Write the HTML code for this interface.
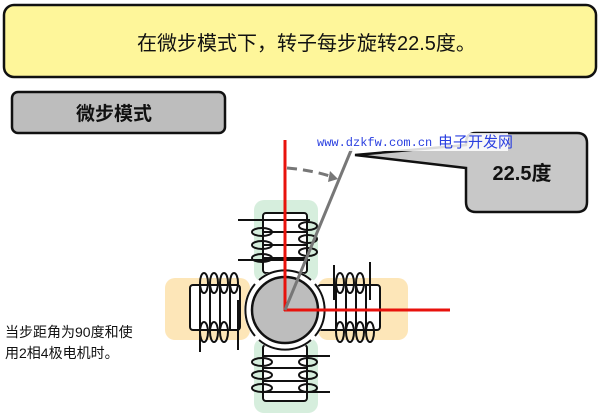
<!DOCTYPE html>
<html><head><meta charset="utf-8"><style>
body{margin:0;width:600px;height:417px;background:#fff;overflow:hidden;font-family:"Liberation Sans","Noto Sans CJK SC",sans-serif}
</style></head><body>
<svg width="600" height="417" viewBox="0 0 600 417" xmlns="http://www.w3.org/2000/svg" style="position:absolute;left:0;top:0">
<rect x="4" y="5" width="592" height="72" rx="10" fill="#fef69a" stroke="#111" stroke-width="2.5"/>
<text x="137" y="50" font-size="20" fill="#111" font-family="Liberation Sans,Noto Sans CJK SC,sans-serif">在微步模式下，转子每步旋转22.5度。</text>
<rect x="12" y="92" width="213" height="41" rx="6" fill="#bdbdbd" stroke="#111" stroke-width="2.5"/>
<text x="76" y="120" font-size="19" font-weight="bold" fill="#111" font-family="Liberation Sans,Noto Sans CJK SC,sans-serif">微步模式</text>
<text x="5" y="337" font-size="14" fill="#111" font-family="Liberation Sans,Noto Sans CJK SC,sans-serif">当步距角为90度和使</text>
<text x="5" y="358" font-size="14" fill="#111" font-family="Liberation Sans,Noto Sans CJK SC,sans-serif">用2相4极电机时。</text>
<rect x="254" y="200" width="64" height="82" rx="10" fill="#d6eedd"/>
<rect x="254" y="338" width="64" height="75" rx="10" fill="#d6eedd"/>
<rect x="165" y="278" width="85" height="62" rx="10" fill="#fde6b8"/>
<rect x="318" y="278" width="90" height="62" rx="10" fill="#fde6b8"/>
<g stroke="#111" stroke-width="2" fill="#fff">
<rect x="263" y="213" width="44" height="60" rx="3"/>
<path d="M238 220H310M238 260H310" fill="none"/>
<path d="M263 232H307M263 245H307M263 258H307" fill="none"/>
<ellipse cx="262" cy="232" rx="10" ry="4" fill="none"/><ellipse cx="262" cy="245" rx="10" ry="4" fill="none"/><ellipse cx="262" cy="258" rx="10" ry="4" fill="none"/>
<ellipse cx="308" cy="226" rx="9" ry="4" fill="none"/><ellipse cx="308" cy="239" rx="9" ry="4" fill="none"/><ellipse cx="308" cy="252" rx="9" ry="4" fill="none"/>
<rect x="263" y="345" width="44" height="56" rx="3"/>
<path d="M263 356H330M263 392H330M263 368H307M263 381H307" fill="none"/>
<ellipse cx="262" cy="362" rx="10" ry="4" fill="none"/><ellipse cx="262" cy="375" rx="10" ry="4" fill="none"/><ellipse cx="262" cy="388" rx="10" ry="4" fill="none"/>
<ellipse cx="308" cy="362" rx="9" ry="4" fill="none"/><ellipse cx="308" cy="375" rx="9" ry="4" fill="none"/><ellipse cx="308" cy="388" rx="9" ry="4" fill="none"/>
<rect x="190" y="285" width="50" height="45" rx="3"/>
<path d="M200 285V330M210 285V330M220 285V330M230 285V330" fill="none"/>
<path d="M200 300V352M238 300V350" fill="none"/>
<ellipse cx="204" cy="283" rx="4" ry="10" fill="none"/><ellipse cx="214" cy="283" rx="4" ry="10" fill="none"/><ellipse cx="224" cy="283" rx="4" ry="10" fill="none"/><ellipse cx="234" cy="283" rx="4" ry="10" fill="none"/>
<ellipse cx="204" cy="332" rx="4" ry="10" fill="none"/><ellipse cx="214" cy="332" rx="4" ry="10" fill="none"/><ellipse cx="224" cy="332" rx="4" ry="10" fill="none"/>
<rect x="318" y="285" width="62" height="45" rx="3"/>
<path d="M336 285V330M346 285V330M356 285V330M366 285V330" fill="none"/>
<path d="M334 265V300M370 262V300" fill="none"/>
<ellipse cx="340" cy="283" rx="4" ry="10" fill="none"/><ellipse cx="350" cy="283" rx="4" ry="10" fill="none"/><ellipse cx="360" cy="283" rx="4" ry="10" fill="none"/>
<ellipse cx="340" cy="332" rx="4" ry="10" fill="none"/><ellipse cx="350" cy="332" rx="4" ry="10" fill="none"/><ellipse cx="360" cy="332" rx="4" ry="10" fill="none"/><ellipse cx="370" cy="332" rx="4" ry="10" fill="none"/>
<circle cx="285" cy="310" r="38" fill="#fff" stroke="#fff" stroke-width="6"/>
<path d="M259 280A40 40 0 0 1 311 280M259 340A40 40 0 0 0 311 340M255 284A40 40 0 0 0 255 336M315 284A40 40 0 0 1 315 336" fill="none"/>
<circle cx="285" cy="310" r="33" fill="#bdbdbd" stroke-width="2.5"/>
</g>
<line x1="285" y1="140" x2="285" y2="311" stroke="#e8120c" stroke-width="3"/>
<line x1="284" y1="310" x2="450" y2="310" stroke="#e8120c" stroke-width="3"/>
<line x1="285" y1="310" x2="352" y2="148" stroke="#777" stroke-width="3"/>
<path d="M287 168Q312 170 333 177" fill="none" stroke="#777" stroke-width="3" stroke-dasharray="10 6"/>
<path d="M330 171L338 179L328 182Z" fill="#777"/>
<path d="M476 133H577Q587 133 587 143V202Q587 212 577 212H476Q466 212 466 202V168L355 155L466 145V143Q466 133 476 133Z" fill="#c8c8c8" stroke="#111" stroke-width="2.5"/>
<text x="522" y="180" font-size="20" font-weight="bold" text-anchor="middle" fill="#111" font-family="Liberation Sans,Noto Sans CJK SC,sans-serif">22.5度</text>
<rect x="314" y="133" width="194" height="18" fill="#fff" opacity="0.85"/>
<text x="317" y="146" font-size="12" fill="#2a3fe0" font-family="Liberation Mono,monospace">www.dzkfw.com.cn</text>
<text x="438" y="147" font-size="15" fill="#2a3fe0" font-family="Liberation Sans,Noto Sans CJK SC,sans-serif">电子开发网</text>
</svg>
</body></html>
